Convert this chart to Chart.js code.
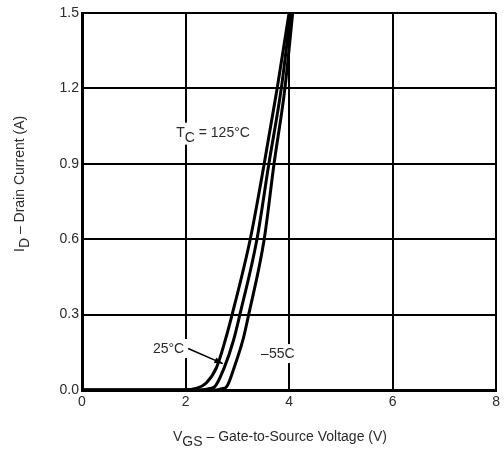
<!DOCTYPE html>
<html>
<head>
<meta charset="utf-8">
<script src="https://cdn.jsdelivr.net/npm/chart.js@4"></script>
<style>
  html, body { margin: 0; padding: 0; background: #fff; }
  #wrap { width: 504px; height: 449px; position: relative; }
</style>
</head>
<body>
<div id="wrap"><canvas id="c"></canvas></div>
<script>
// transfer characteristics
const VGS_125 = [0, 2.0, 2.2, 2.4, 2.6, 2.77, 2.9, 3.25, 3.52, 3.77, 4.0];
const ID_125  = [0, 0, 0.006, 0.028, 0.09, 0.2, 0.3, 0.6, 0.9, 1.2, 1.5];
const VGS_25  = [0, 2.3, 2.45, 2.56, 2.75, 2.93, 3.05, 3.38, 3.61, 3.85, 4.03];
const ID_25   = [0, 0, 0.005, 0.012, 0.09, 0.2, 0.3, 0.6, 0.9, 1.2, 1.5];
const VGS_M55 = [0, 2.6, 2.7, 2.79, 2.94, 3.11, 3.22, 3.52, 3.71, 3.92, 4.07];
const ID_M55  = [0, 0, 0.005, 0.012, 0.09, 0.2, 0.3, 0.6, 0.9, 1.2, 1.5];

const X_TICKS = [0, 2, 4, 6, 8];
const Y_TICKS = [0, 0.3, 0.6, 0.9, 1.2, 1.5];

const FONT = '"Liberation Sans", Arial, sans-serif';
const TXT = '#2a2a2a';

const pts = (xs, ys) => xs.map((x, i) => ({ x, y: ys[i] }));

function curve(label, xs, ys) {
  return {
    label,
    data: pts(xs, ys),
    borderColor: '#000',
    borderWidth: 3,
    pointRadius: 0,
    cubicInterpolationMode: 'monotone',
    fill: false,
  };
}

// text with a subscript part, optional white box behind it
function subText(ctx, x, y, parts, size, box) {
  ctx.font = size + 'px ' + FONT;
  let w = 0;
  parts.forEach(p => { w += ctx.measureText(p.t).width; });
  if (box) {
    ctx.fillStyle = '#fff';
    ctx.fillRect(x - 2, y - size, w + 4, size + 8);
  }
  ctx.fillStyle = TXT;
  ctx.textBaseline = 'alphabetic';
  ctx.textAlign = 'left';
  let cx = x;
  parts.forEach(p => {
    ctx.fillText(p.t, cx, p.sub ? y + 5 : y);
    cx += ctx.measureText(p.t).width;
  });
  return w;
}

const labelsPlugin = {
  id: 'curveLabels',
  afterDatasetsDraw(chart) {
    const { ctx, scales: { x, y } } = chart;
    ctx.save();

    // T_C = 125°C
    subText(ctx, x.getPixelForValue(1.82), y.getPixelForValue(1.008),
      [{ t: 'T' }, { t: 'C', sub: true }, { t: ' = 125°C' }], 14, true);

    // 25°C with arrow
    ctx.font = '14px ' + FONT;
    const lx = x.getPixelForValue(1.37), ly = y.getPixelForValue(0.147);
    const lw = ctx.measureText('25°C').width;
    ctx.fillStyle = '#fff';
    ctx.fillRect(lx - 2, ly - 14, lw + 8, 19);
    ctx.fillStyle = TXT;
    ctx.fillText('25°C', lx, ly);
    const ax0 = x.getPixelForValue(2.05), ay0 = y.getPixelForValue(0.165);
    const ax1 = x.getPixelForValue(2.72), ay1 = y.getPixelForValue(0.105);
    ctx.strokeStyle = '#000';
    ctx.lineWidth = 1.5;
    ctx.beginPath();
    ctx.moveTo(ax0, ay0);
    ctx.lineTo(ax1, ay1);
    ctx.stroke();
    const ang = Math.atan2(ay1 - ay0, ax1 - ax0);
    ctx.fillStyle = '#000';
    ctx.beginPath();
    ctx.moveTo(ax1, ay1);
    ctx.lineTo(ax1 - 9 * Math.cos(ang - 0.35), ay1 - 9 * Math.sin(ang - 0.35));
    ctx.lineTo(ax1 - 9 * Math.cos(ang + 0.35), ay1 - 9 * Math.sin(ang + 0.35));
    ctx.closePath();
    ctx.fill();

    // –55C
    const mx = x.getPixelForValue(3.46), my = y.getPixelForValue(0.127);
    const mw = ctx.measureText('–55C').width;
    ctx.fillStyle = '#fff';
    ctx.fillRect(mx - 2, my - 14, mw + 4, 19);
    ctx.fillStyle = TXT;
    ctx.fillText('–55C', mx, my);

    // axis titles with subscripts
    subText(ctx, 173, 441, [{ t: 'V' }, { t: 'GS', sub: true }, { t: ' – Gate-to-Source Voltage (V)' }], 14, false);

    ctx.translate(24, 252);
    ctx.rotate(-Math.PI / 2);
    subText(ctx, 0, 0, [{ t: 'I' }, { t: 'D', sub: true }, { t: ' – Drain Current (A)' }], 14, false);
    ctx.restore();
  }
};

new Chart(document.getElementById('c'), {
  type: 'line',
  data: {
    datasets: [
      curve('TC = 125°C', VGS_125, ID_125),
      curve('25°C', VGS_25, ID_25),
      curve('–55C', VGS_M55, ID_M55),
    ]
  },
  plugins: [labelsPlugin],
  options: {
    responsive: true,
    maintainAspectRatio: false,
    animation: false,
    layout: { padding: { left: 0, right: 6, top: 13, bottom: 0 } },
    scales: {
      x: {
        type: 'linear',
        min: 0, max: 8,
        afterFit: s => { s.height = 59; },
        afterBuildTicks: s => { s.ticks = X_TICKS.map(v => ({ value: v })); },
        ticks: { color: TXT, font: { family: FONT, size: 14 }, padding: 4, callback: v => String(v) },
        grid: { color: '#000', lineWidth: 2, drawTicks: false },
        border: { color: '#000', width: 3 },
      },
      y: {
        min: 0, max: 1.5,
        afterFit: s => { s.width = 82; },
        afterBuildTicks: s => { s.ticks = Y_TICKS.map(v => ({ value: v })); },
        ticks: { color: TXT, font: { family: FONT, size: 14 }, padding: 3, callback: v => Number(v).toFixed(1) },
        grid: { color: '#000', lineWidth: 2, drawTicks: false },
        border: { color: '#000', width: 3 },
      }
    },
    plugins: {
      legend: { display: false },
      tooltip: { enabled: false },
    }
  }
});
</script>
</body>
</html>
